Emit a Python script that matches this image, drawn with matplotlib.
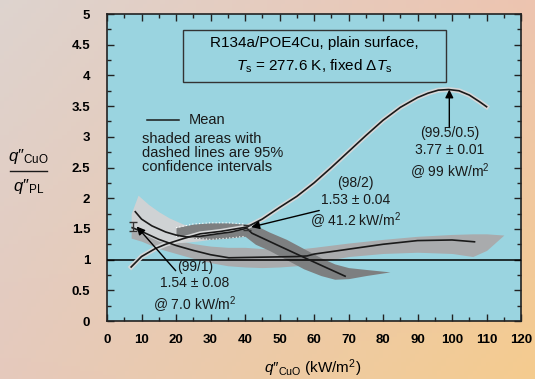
import numpy as np
import matplotlib.pyplot as plt
import matplotlib.patheffects as pe
from matplotlib.patches import Rectangle
from matplotlib.lines import Line2D

plt.rcParams['font.family'] = ['Liberation Sans', 'DejaVu Sans']
plt.rcParams['mathtext.fontset'] = 'custom'
plt.rcParams['mathtext.rm'] = 'Liberation Sans'
plt.rcParams['mathtext.it'] = 'Liberation Sans:italic'

# mean curves
x_995 = [7, 10, 14, 17, 22, 27, 33, 40.5, 45, 50, 55, 60, 65, 70, 75, 80, 85, 90, 93, 96, 99, 102, 105, 108, 110]
y_995 = [0.88, 1.05, 1.18, 1.25, 1.34, 1.42, 1.46, 1.53, 1.66, 1.85, 2.03, 2.25, 2.5, 2.76, 3.02, 3.27, 3.48, 3.64, 3.71, 3.76, 3.77, 3.75, 3.68, 3.57, 3.49]

x_98 = [8.2, 10, 13, 17, 20, 23, 27, 32, 36, 40.5, 42, 50, 60, 69]
y_98 = [1.78, 1.66, 1.55, 1.45, 1.40, 1.37, 1.38, 1.42, 1.45, 1.51, 1.43, 1.22, 0.96, 0.73]

x_99 = [7.3, 10, 15, 20, 25, 30, 35.3, 45, 55, 58, 60, 70, 80, 90, 100, 106.5]
y_99 = [1.52, 1.46, 1.33, 1.23, 1.15, 1.08, 1.03, 1.04, 1.05, 1.06, 1.09, 1.17, 1.25, 1.31, 1.32, 1.29]

# confidence bands
band98a_x = [7, 9, 12, 15, 18, 22, 26, 30, 34]
band98a_hi = [1.75, 2.05, 1.9, 1.78, 1.68, 1.58, 1.52, 1.49, 1.47]
band98a_lo = [1.45, 1.45, 1.38, 1.3, 1.27, 1.28, 1.3, 1.33, 1.36]

band98b_x = [20, 25, 30, 35, 40, 43, 47, 52, 57, 62, 66, 70, 75, 82]
band98b_hi = [1.52, 1.58, 1.6, 1.6, 1.58, 1.56, 1.45, 1.33, 1.18, 1.03, 0.93, 0.87, 0.84, 0.80]
band98b_lo = [1.38, 1.35, 1.33, 1.35, 1.38, 1.25, 1.15, 1.0, 0.85, 0.74, 0.68, 0.69, 0.74, 0.80]

band99_x = [7, 10, 15, 20, 25, 30, 35, 40, 45, 50, 55, 60, 70, 80, 90, 100, 106, 110, 115]
band99_hi = [1.62, 1.52, 1.4, 1.32, 1.26, 1.22, 1.2, 1.2, 1.18, 1.17, 1.17, 1.2, 1.27, 1.33, 1.38, 1.41, 1.42, 1.42, 1.40]
band99_lo = [1.35, 1.3, 1.18, 1.1, 1.02, 0.95, 0.9, 0.88, 0.87, 0.88, 0.9, 0.95, 1.05, 1.1, 1.12, 1.1, 1.05, 1.15, 1.40]

# maxima with error
pts_x = [7.5, 40.5, 99.2]
pts_y = [1.54, 1.53, 3.77]
pts_err = [0.08, 0.04, 0.01]

xticks = list(range(0, 121, 10))
yticks = [0, 0.5, 1, 1.5, 2, 2.5, 3, 3.5, 4, 4.5, 5]
ylabels = ['0', '0.5', '1', '1.5', '2', '2.5', '3', '3.5', '4', '4.5', '5']

fig = plt.figure(figsize=(5.35, 3.79), dpi=100)

# slide background
bg = fig.add_axes([0, 0, 1, 1], zorder=-10)
tl = np.array([0.87, 0.83, 0.81])
tr = np.array([0.93, 0.77, 0.69])
bl = np.array([0.90, 0.79, 0.74])
br = np.array([0.96, 0.80, 0.56])
u = np.linspace(0, 1, 120)[None, :, None]
v = np.linspace(0, 1, 90)[:, None, None]
img = (1 - v) * ((1 - u) * tl + u * tr) + v * ((1 - u) * bl + u * br)
bg.imshow(img, aspect='auto', extent=[0, 1, 0, 1])
bg.axis('off')

ax = fig.add_axes([0.2, 0.153, 0.774, 0.81])
ax.set_facecolor('#9ad4e0')

ax.fill_between(band99_x, band99_lo, band99_hi, color='#a9abad', lw=0, zorder=1)
ax.fill_between(band98a_x, band98a_lo, band98a_hi, color='#cfd2d4', lw=0, zorder=2)
ax.fill_between(band98b_x, band98b_lo, band98b_hi, color='#7d7f80', lw=0, zorder=2)
ax.plot(band98b_x[:5], band98b_hi[:5], color='white', ls=(0, (1, 2)), lw=0.8, zorder=3)
ax.plot(band98b_x[:5], band98b_lo[:5], color='white', ls=(0, (1, 2)), lw=0.8, zorder=3)

ax.axhline(1, color='black', lw=1.1, zorder=4)

ax.plot(x_995, y_995, color='#1a1a1a', lw=1.2, zorder=5,
        path_effects=[pe.Stroke(linewidth=3.5, foreground='#d6d8d9'), pe.Normal()])
ax.plot(x_98, y_98, color='#1a1a1a', lw=1.2, zorder=5)
ax.plot(x_99, y_99, color='#1a1a1a', lw=1.2, zorder=5)

ax.errorbar(pts_x[:2], pts_y[:2], yerr=pts_err[:2], fmt='none', ecolor='#333333',
            capsize=3, elinewidth=1, zorder=6)

arrow = dict(arrowstyle='-|>', color='black', lw=1, mutation_scale=12, shrinkA=0, shrinkB=0)
ax.annotate('', xy=(8.6, pts_y[0]), xytext=(19.9, 0.82), arrowprops=arrow, zorder=7)
ax.annotate('', xy=(41.8, pts_y[1]), xytext=(61.5, 1.8), arrowprops=arrow, zorder=7)
ax.annotate('', xy=(pts_x[2], pts_y[2]), xytext=(pts_x[2], 3.15), arrowprops=arrow, zorder=7)

tk = dict(fontsize=10, ha='center', va='center', linespacing=1.25, color='#1a1a1a', zorder=8)
ax.text(25.5, 0.55, '(99/1)\n1.54 ± 0.08\n@ 7.0 kW/m$^2$', **tk)
ax.text(72, 1.91, '(98/2)\n1.53 ± 0.04\n@ 41.2 kW/m$^2$', **tk)
ax.text(99.4, 2.72, '(99.5/0.5)\n3.77 ± 0.01\n@ 99 kW/m$^2$', **tk)

# legend note
ax.plot([11.5, 21], [3.27, 3.27], color='#1a1a1a', lw=1.1, zorder=8)
ax.text(23.8, 3.27, 'Mean', fontsize=10.5, va='center', ha='left', color='#1a1a1a')
ax.text(10, 2.73, 'shaded areas with\ndashed lines are 95%\nconfidence intervals',
        fontsize=10.5, va='center', ha='left', linespacing=1.0, color='#1a1a1a')

# title box
ax.add_patch(Rectangle((21.9, 3.9), 76.2, 0.84, fill=False, ec='#333333', lw=1, zorder=8))
ax.text(60, 4.52, 'R134a/POE4Cu, plain surface,', fontsize=11, ha='center', va='center')
ax.text(60, 4.15, r'$T_{\rm s}$ = 277.6 K, fixed $\Delta T_{\rm s}$', fontsize=11,
        ha='center', va='center')

ax.set_xlim(0, 120)
ax.set_ylim(0, 5)
ax.set_xticks(xticks)
ax.set_xticks(range(5, 120, 10), minor=True)
ax.set_yticks(yticks)
ax.set_yticklabels(ylabels)
ax.set_yticks(np.arange(0.25, 5, 0.5), minor=True)
ax.tick_params(which='both', direction='in', top=True, right=True, width=1, color='#222222')
ax.tick_params(which='major', length=5)
ax.tick_params(which='minor', length=3)
ax.tick_params(axis='x', pad=9)
ax.tick_params(axis='y', pad=12)
for lab in ax.get_xticklabels() + ax.get_yticklabels():
    lab.set_fontweight('bold')
    lab.set_fontsize(9.5)
for s in ax.spines.values():
    s.set_linewidth(1.2)
    s.set_color('#222222')

fig.text(313 / 535, 1 - 368 / 379, r'$q″_{\rm CuO}$ (kW/m$^2$)', fontsize=11,
         ha='center', va='center')

# y axis label as a fraction
fig.text(28.5 / 535, 1 - 157 / 379, r'$q″_{\rm CuO}$', fontsize=12, ha='center', va='center')
fig.text(28.5 / 535, 1 - 186 / 379, r'$q″_{\rm PL}$', fontsize=12, ha='center', va='center')
fig.add_artist(Line2D([10 / 535, 47 / 535], [1 - 171 / 379, 1 - 171 / 379], color='#1a1a1a', lw=1))

fig.savefig('out.png', dpi=100)
